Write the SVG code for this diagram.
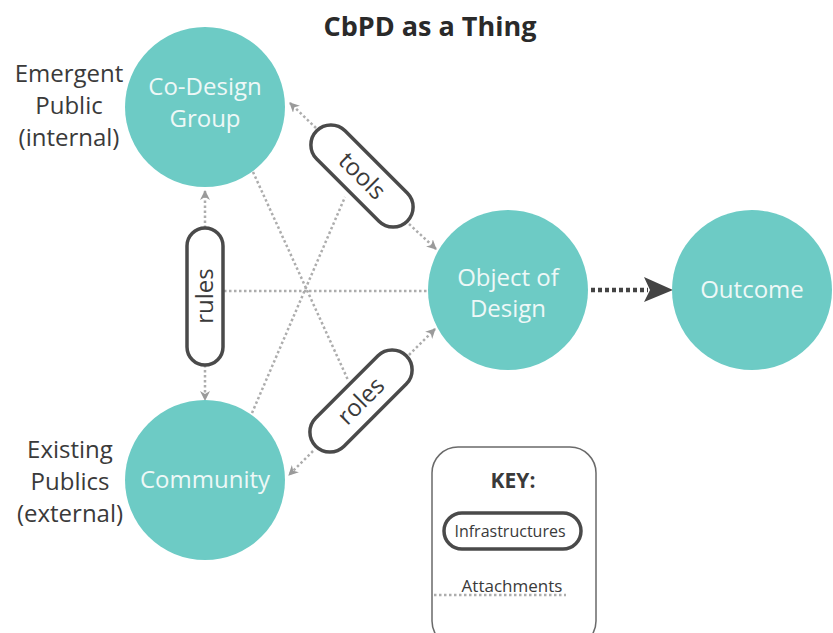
<svg xmlns="http://www.w3.org/2000/svg" width="833" height="633" viewBox="0 0 833 633">
  <style>
    .node { fill: #6dcbc5; }
    .nlabel { font-family: "Open Sans", "Noto Sans", sans-serif; font-size: 24px; fill: #eef8f7; text-anchor: middle; }
    .side { font-family: "Open Sans", "Noto Sans", sans-serif; font-size: 24px; fill: #3a3a3a; text-anchor: middle; }
    .pill { fill: #ffffff; stroke: #4a4a4a; stroke-width: 3.5; }
    .plabel { font-family: "Open Sans", "Noto Sans", sans-serif; font-size: 24px; fill: #3a3a3a; text-anchor: middle; }
    .attach { fill: none; stroke: #adadad; stroke-width: 2.5; stroke-dasharray: 2.5 2.5; }
    .title { font-family: "Open Sans", "Noto Sans", sans-serif; font-size: 27px; font-weight: bold; fill: #2a2a2a; text-anchor: middle; }
    .key { font-family: "Open Sans", "Noto Sans", sans-serif; fill: #3a3a3a; text-anchor: middle; }
  </style>
  <defs>
    <marker id="tip" viewBox="0 0 10 10" refX="9" refY="5" markerWidth="4" markerHeight="4" orient="auto" markerUnits="strokeWidth">
      <path d="M0,0 L10,5 L0,10 L3,5 Z" fill="#9a9a9a"/>
    </marker>
  </defs>

  <text class="title" x="430" y="36">CbPD as a Thing</text>

  <!-- attachment lines -->
  <g id="connectors">
    <line class="attach" x1="205" y1="228" x2="205" y2="191" marker-end="url(#tip)"/>
    <line class="attach" x1="205" y1="365" x2="205" y2="400" marker-end="url(#tip)"/>
    <line class="attach" x1="224" y1="291" x2="428" y2="291"/>
    <line class="attach" x1="253" y1="172" x2="348" y2="380"/>
    <line class="attach" x1="252" y1="413" x2="345" y2="197"/>
    <line class="attach" x1="316" y1="128" x2="290" y2="103" marker-end="url(#tip)"/>
    <line class="attach" x1="409" y1="224" x2="436" y2="249" marker-end="url(#tip)"/>
    <line class="attach" x1="409" y1="355" x2="435" y2="329" marker-end="url(#tip)"/>
    <line class="attach" x1="313" y1="451" x2="289" y2="475" marker-end="url(#tip)"/>
    <line x1="591" y1="290" x2="648" y2="290" stroke="#444" stroke-width="4.5" stroke-dasharray="4 3"/>
    <path d="M644,277 L673,290 L644,302 L650,290 Z" fill="#444"/>
  </g>

  <g id="co-design-group">
    <circle class="node" cx="205" cy="107" r="80"/>
    <text class="nlabel" x="205" y="95">Co-Design</text>
    <text class="nlabel" x="205" y="127">Group</text>
  </g>

  <g id="community">
    <circle class="node" cx="205" cy="480" r="80"/>
    <text class="nlabel" x="205" y="488">Community</text>
  </g>

  <g id="object-of-design">
    <circle class="node" cx="508" cy="290" r="80"/>
    <text class="nlabel" x="508" y="286">Object of</text>
    <text class="nlabel" x="508" y="317">Design</text>
  </g>

  <g id="outcome">
    <circle class="node" cx="752" cy="290" r="80"/>
    <text class="nlabel" x="752" y="298">Outcome</text>
  </g>

  <g id="emergent-public">
    <text class="side" x="69" y="82">Emergent</text>
    <text class="side" x="69" y="114">Public</text>
    <text class="side" x="69" y="146">(internal)</text>
  </g>

  <g id="existing-publics">
    <text class="side" x="70" y="458">Existing</text>
    <text class="side" x="70" y="490">Publics</text>
    <text class="side" x="70" y="522">(external)</text>
  </g>

  <g id="rules">
    <rect class="pill" x="187" y="228" width="36" height="137" rx="18"/>
    <text class="plabel" transform="translate(205,296) rotate(-90)" y="8">rules</text>
  </g>

  <g id="tools">
    <g transform="translate(362,176) rotate(45)">
      <rect class="pill" x="-64" y="-20" width="128" height="40" rx="20"/>
      <text class="plabel" y="8">tools</text>
    </g>
  </g>

  <g id="roles">
    <g transform="translate(361,401) rotate(-45)">
      <rect class="pill" x="-64" y="-20" width="128" height="40" rx="20"/>
      <text class="plabel" y="8">roles</text>
    </g>
  </g>

  <g id="key">
    <rect x="432" y="447" width="164" height="200" rx="26" fill="#fff" stroke="#6a6a6a" stroke-width="1.5"/>
    <text class="key" x="513" y="488" font-size="21" font-weight="bold" fill="#2a2a2a">KEY:</text>
    <rect x="444" y="513" width="137" height="36" rx="18" fill="#fff" stroke="#4a4a4a" stroke-width="3.5"/>
    <text class="key" x="510" y="537" font-size="16">Infrastructures</text>
    <line class="attach" x1="434" y1="595" x2="566" y2="595"/>
    <text class="key" x="512" y="592" font-size="17">Attachments</text>
  </g>
</svg>
